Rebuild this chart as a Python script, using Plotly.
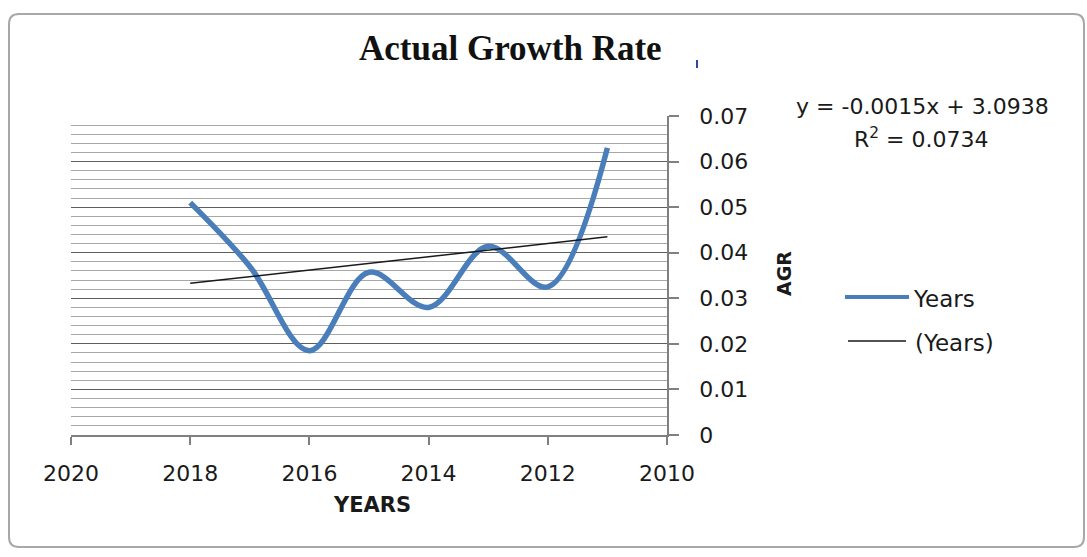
import numpy as np
import plotly.graph_objects as go

# ---- data ----
years = [2018, 2017, 2016, 2015, 2014, 2013, 2012, 2011]
agr = [0.051, 0.037, 0.0185, 0.0357, 0.0280, 0.0414, 0.0325, 0.063]
x_ticks = [2020, 2018, 2016, 2014, 2012, 2010]
y_ticks = [0, 0.01, 0.02, 0.03, 0.04, 0.05, 0.06, 0.07]
y_tick_text = ["0", "0.01", "0.02", "0.03", "0.04", "0.05", "0.06", "0.07"]
title_text = "Actual Growth Rate"
eq_text = "y = -0.0015x + 3.0938"
r2_text = "R<sup>2</sup> = 0.0734"
series_name = "Years"
trend_name = "(Years)"

# linear trendline (least squares over the series)
slope, intercept = np.polyfit(years, agr, 1)
trend_x = [years[0], years[-1]]
trend_y = [slope * v + intercept for v in trend_x]

W, H = 1087, 557
L, R, T, B = 71, 667, 116, 435


def px(x):
    return (x - L) / (R - L)


def py(y):
    return (B - y) / (B - T)


fig = go.Figure()
fig.add_trace(go.Scatter(
    x=years, y=agr, mode="lines", name=series_name,
    line=dict(color="#4a7ebb", width=5.5, shape="spline", smoothing=1.0),
    showlegend=False, hoverinfo="x+y",
))
fig.add_trace(go.Scatter(
    x=trend_x, y=trend_y, mode="lines", name=trend_name,
    line=dict(color="#1a1a1a", width=1.5),
    showlegend=False,
))

tick_font = dict(family="DejaVu Sans", size=22, color="#1a1a1a")

fig.update_layout(
    width=W, height=H,
    margin=dict(l=L, r=W - R, t=T, b=H - B, pad=0),
    paper_bgcolor="white", plot_bgcolor="white",
    xaxis=dict(
        range=[2020, 2010], tickvals=x_ticks, ticktext=[str(v) for v in x_ticks],
        showgrid=False, zeroline=False, showline=True, linecolor="#808080", linewidth=1.5,
        ticks="outside", ticklen=8, tickcolor="#808080", tickwidth=1.5,
        tickfont=tick_font, ticklabelstandoff=10,
    ),
    yaxis=dict(
        range=[0, 0.07], side="right", tickvals=y_ticks, ticktext=y_tick_text,
        showgrid=True, gridcolor="#5e5e5e", gridwidth=1.2,
        minor=dict(dtick=0.002, showgrid=True, gridcolor="#a8a8a8", gridwidth=1.2),
        zeroline=False, showline=True, linecolor="#808080", linewidth=1.5,
        ticks="outside", ticklen=10, tickcolor="#808080", tickwidth=1.5,
        tickfont=tick_font, ticklabelstandoff=16,
    ),
)

# outer chart border (rounded rectangle)
x0, x1, y0, y1 = px(9), px(1084), py(547), py(14)
rx, ry = 10 / (R - L), 10 / (B - T)
path = (f"M {x0+rx},{y1} L {x1-rx},{y1} Q {x1},{y1} {x1},{y1-ry} "
        f"L {x1},{y0+ry} Q {x1},{y0} {x1-rx},{y0} L {x0+rx},{y0} "
        f"Q {x0},{y0} {x0},{y0+ry} L {x0},{y1-ry} Q {x0},{y1} {x0+rx},{y1} Z")
fig.add_shape(type="path", path=path, xref="paper", yref="paper",
              line=dict(color="#a8a8a8", width=2), layer="below")

# small blue mark near title
fig.add_shape(type="line", xref="paper", yref="paper",
              x0=px(697), x1=px(697), y0=py(68), y1=py(60),
              line=dict(color="#1f4e9a", width=2))

# legend (manual)
fig.add_shape(type="line", xref="paper", yref="paper",
              x0=px(845), x1=px(909), y0=py(297), y1=py(297),
              line=dict(color="#4a7ebb", width=4))
fig.add_shape(type="line", xref="paper", yref="paper",
              x0=px(848), x1=px(906), y0=py(341), y1=py(341),
              line=dict(color="#1a1a1a", width=1.5))

ann = []
ann.append(dict(text=f"<b>{title_text}</b>", x=px(510), y=py(49), xref="paper", yref="paper",
                showarrow=False, xanchor="center", yanchor="middle",
                font=dict(family="Liberation Serif", size=35, color="#111111")))
ann.append(dict(text="<b>YEARS</b>", x=px(372), y=py(505), xref="paper", yref="paper",
                showarrow=False, xanchor="center", yanchor="middle",
                font=dict(family="DejaVu Sans", size=21, color="#1a1a1a")))
ann.append(dict(text="<b>AGR</b>", x=px(784), y=py(274), xref="paper", yref="paper",
                showarrow=False, xanchor="center", yanchor="middle", textangle=-90,
                font=dict(family="DejaVu Sans", size=19, color="#1a1a1a")))
ann.append(dict(text=eq_text, x=px(922), y=py(107), xref="paper", yref="paper",
                showarrow=False, xanchor="center", yanchor="middle",
                font=dict(family="DejaVu Sans", size=22, color="#1a1a1a")))
ann.append(dict(text=r2_text, x=px(921), y=py(138), xref="paper", yref="paper",
                showarrow=False, xanchor="center", yanchor="middle",
                font=dict(family="DejaVu Sans", size=22, color="#1a1a1a")))
ann.append(dict(text=series_name, x=px(911), y=py(299), xref="paper", yref="paper",
                showarrow=False, xanchor="left", yanchor="middle",
                font=dict(family="DejaVu Sans", size=23, color="#1a1a1a")))
ann.append(dict(text=trend_name, x=px(913), y=py(343), xref="paper", yref="paper",
                showarrow=False, xanchor="left", yanchor="middle",
                font=dict(family="DejaVu Sans", size=23, color="#1a1a1a")))
fig.update_layout(annotations=ann)

fig.write_html("out.html")
